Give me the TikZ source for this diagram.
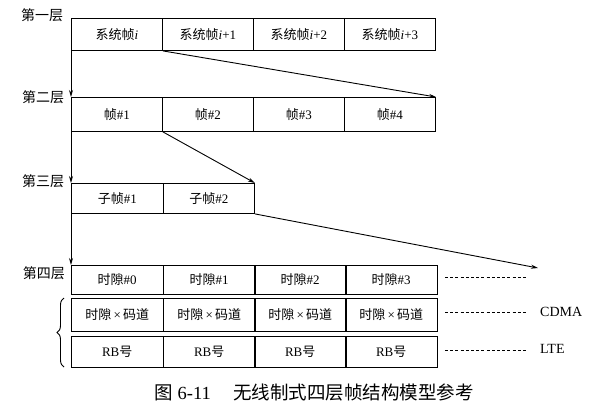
\documentclass[tikz,border=0pt]{standalone}
\usepackage{fontspec}
\setmainfont{Liberation Serif}
\newfontfamily\cjk{Noto Sans CJK SC}
\usetikzlibrary{arrows.meta,decorations.pathreplacing}
\begin{document}
\begin{tikzpicture}[x=1pt,y=-1pt,
  cell/.style={draw,line width=0.9pt,anchor=north west,inner sep=0pt,font=\fontsize{13}{15}\selectfont},
  lvl/.style={font=\cjk\fontsize{14}{16}\selectfont,inner sep=0pt},
  conn/.style={line width=0.9pt,-{Stealth[length=7pt,width=4pt]}},
  dsh/.style={line width=0.7pt,dash pattern=on 3pt off 2.2pt},
  side/.style={font=\fontsize{14}{16}\selectfont,anchor=west,inner sep=0pt},
]
\useasboundingbox (0,0) rectangle (600,415);
% row 1
\foreach \i/\t [count=\k] in {71/{{\cjk 系统帧}\textit{i}},162/{{\cjk 系统帧}\textit{i}+1},253/{{\cjk 系统帧}\textit{i}+2},344/{{\cjk 系统帧}\textit{i}+3}}
  \node[cell,minimum width=91pt,minimum height=32pt] (a\k) at (\i,18) {\t};
% row 2
\foreach \i/\t [count=\k] in {71/1,162/2,253/3,344/4}
  \node[cell,minimum width=91pt,minimum height=34pt] (b\k) at (\i,97) {{\cjk 帧}\#\t};
% row 3
\node[cell,minimum width=92pt,minimum height=30pt] (c1) at (71,183) {{\cjk 子帧}\#1};
\node[cell,minimum width=91pt,minimum height=30pt] (c2) at (163,183) {{\cjk 子帧}\#2};
% row 4
\foreach \i/\t [count=\k] in {71/0,163/1,254/2,345/3}
  \node[cell,minimum width=91.5pt,minimum height=29pt] (d\k) at (\i,265) {{\cjk 时隙}\#\t};
% row 5
\foreach \i [count=\k] in {71,163,254,345}
  \node[cell,minimum width=91.5pt,minimum height=33pt] (e\k) at (\i,298) {{\cjk 时隙}\,×\,{\cjk 码道}};
% row 6
\foreach \i [count=\k] in {71,163,254,345}
  \node[cell,minimum width=91.5pt,minimum height=31pt] (f\k) at (\i,336) {RB{\cjk 号}};
% level labels
\node[lvl] (l1) at (42,15) {第一层};
\node[lvl] (l2) at (43,97) {第二层};
\node[lvl] (l3) at (43,181) {第三层};
\node[lvl] (l4) at (44,273) {第四层};
% vertical arrows
\draw[conn] (a1.south west) -- (b1.north west);
\draw[conn] (b1.south west) -- (c1.north west);
\draw[conn] (c1.south west) -- (d1.north west);
% expansion arrows
\draw[conn] (a1.south east) -- (b4.north east);
\draw[conn] (b1.south east) -- (c2.north east);
\coordinate (t4) at (538,268);
\draw[conn] (c2.south east) -- (t4);
% dashed lines
\coordinate (p1) at (445,277); \coordinate (q1) at (527,277);
\coordinate (p2) at (445,312); \coordinate (q2) at (527,312);
\coordinate (p3) at (445,350); \coordinate (q3) at (527,350);
\draw[dsh] (p1) -- (q1);
\draw[dsh] (p2) -- (q2);
\draw[dsh] (p3) -- (q3);
\node[side] (cdma) at (540,312) {CDMA};
\node[side] (lte) at (540,349) {LTE};
% brace
\coordinate (bb) at (64,367); \coordinate (bt) at (64,298);
\draw[line width=0.9pt,decorate,decoration={brace,amplitude=7pt}] (bb) -- (bt);
% caption
\node[font=\fontsize{18.5}{21}\selectfont,inner sep=0pt] (cap) at (314,393) {{\cjk 图} 6-11\hspace{1.2em}{\cjk 无线制式四层帧结构模型参考}};
\end{tikzpicture}
\end{document}
